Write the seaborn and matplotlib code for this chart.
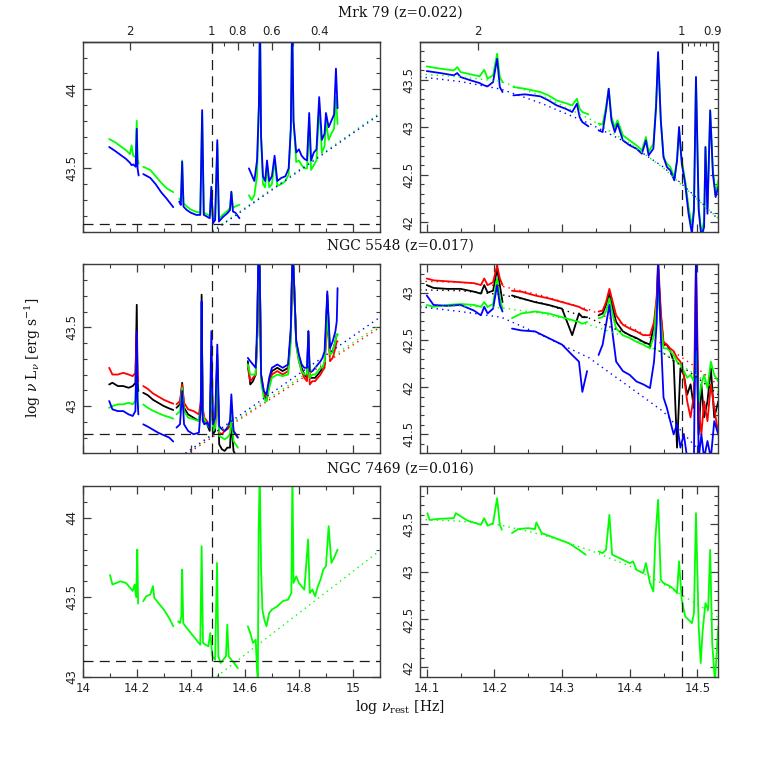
import numpy as np
import pandas as pd
import matplotlib
matplotlib.use("Agg")
import matplotlib.pyplot as plt
import seaborn as sns
from matplotlib.ticker import FixedLocator, MultipleLocator, FuncFormatter, NullFormatter

nan = np.nan

# ------------------------------------------------------------------ data
# Mrk 79, wide range (left), log nu_rest vs log nu L_nu ; NaN = gap
mrk79_L_nu = [14.098, 14.12, 14.14, 14.16, 14.175, 14.181, 14.187, 14.196, 14.200, 14.203, 14.207, nan,
              14.224, 14.25, 14.27, 14.29, 14.31, 14.335, nan,
              14.357, 14.363, 14.368, 14.373, 14.385, 14.40, 14.42, 14.435, 14.442, 14.448, 14.46, 14.47,
              14.476, 14.482, 14.49, 14.498, 14.504, 14.52, 14.535, 14.545, 14.55, 14.556, 14.565, 14.58, nan,
              14.615, 14.625, 14.635, 14.645, 14.652, 14.656, 14.660, 14.667, 14.675, 14.682, 14.69, 14.70,
              14.71, 14.72, 14.735, 14.75, 14.762, 14.770, 14.775, 14.780, 14.79, 14.80, 14.81, 14.82, 14.83,
              14.838, 14.845, 14.855, 14.865, 14.875, 14.885, 14.895, 14.90, 14.91, 14.92, 14.93, 14.937, 14.943]
mrk79_L_blue = [43.635, 43.61, 43.585, 43.56, 43.535, 43.52, 43.525, 43.51, 43.75, 43.50, 43.455, nan,
                43.464, 43.44, 43.40, 43.35, 43.31, 43.255, nan,
                43.29, 43.269, 43.542, 43.258, 43.237, 43.22, 43.206, 43.206, 43.868, 43.206, 43.195, 43.185,
                43.384, 43.153, 43.174, 43.678, 43.164, 43.195, 43.216, 43.237, 43.353, 43.227, 43.22, 43.185, nan,
                43.50, 43.46, 43.42, 43.55, 43.9, 44.45, 43.7, 43.45, 43.42, 43.55, 43.42, 43.45,
                43.58, 43.42, 43.44, 43.45, 43.50, 43.75, 44.45, 43.8, 43.60, 43.62, 43.58, 43.56, 43.55,
                43.85, 43.55, 43.60, 43.62, 43.95, 43.68, 43.72, 43.85, 43.76, 43.80, 43.84, 44.13, 43.88]
mrk79_L_green = [43.685, 43.665, 43.64, 43.615, 43.59, 43.645, 43.58, 43.57, 43.80, 43.56, 43.53, nan,
                 43.51, 43.49, 43.45, 43.41, 43.375, 43.35, nan,
                 43.31, 43.29, 43.55, 43.28, 43.26, 43.24, 43.225, 43.22, 43.85, 43.22, 43.21, 43.20,
                 43.38, 43.17, 43.19, 43.66, 43.18, 43.21, 43.23, 43.25, 43.35, 43.25, 43.26, 43.27, nan,
                 43.33, 43.30, 43.33, 43.45, 43.9, 44.45, 43.7, 43.40, 43.38, 43.52, 43.38, 43.40,
                 43.55, 43.39, 43.40, 43.42, 43.46, 43.75, 44.45, 43.8, 43.54, 43.55, 43.52, 43.50, 43.50,
                 43.80, 43.49, 43.52, 43.55, 43.90, 43.60, 43.64, 43.80, 43.68, 43.72, 43.75, 43.95, 43.78]
mrk79_L_fit_nu = [14.48, 15.10]
mrk79_L_fit_green = [43.106, 43.85]
mrk79_L_fit_blue = [43.100, 43.842]
mrk79_L_floor = 43.15

# Mrk 79, near-IR (right)
mrk79_R_nu = [14.100, 14.12, 14.14, 14.145, 14.15, 14.165, 14.178, 14.185, 14.19, 14.198, 14.204, 14.208, 14.212, nan,
              14.228, 14.245, 14.268, 14.28, 14.292, 14.305, 14.315, 14.322, 14.326, 14.33, 14.339, nan,
              14.354, 14.36, 14.365, 14.369, 14.373, 14.378, 14.382, 14.39, 14.40, 14.41, 14.418, 14.424,
              14.428, 14.435, 14.439, 14.442, 14.446, 14.45, 14.455, 14.46, 14.466, 14.470, 14.473, 14.477,
              14.482, 14.487, 14.492, 14.495, 14.498, 14.502, 14.506, 14.51, 14.512, 14.515, 14.519, 14.523,
              14.527, 14.531]
mrk79_R_green = [43.640, 43.616, 43.598, 43.633, 43.581, 43.556, 43.535, 43.605, 43.511, 43.546, 43.774, 43.528, 43.475, nan,
                 43.423, 43.405, 43.37, 43.335, 43.282, 43.254, 43.23, 43.30, 43.195, 43.16, 43.135, nan,
                 43.037, 43.030, 43.212, 43.405, 43.107, 43.002, 43.072, 42.914, 42.861, 42.809, 42.756, 42.896,
                 42.739, 42.826, 43.247, 43.739, 43.072, 42.686, 42.616, 42.581, 42.475, 42.651, 42.967, 42.651,
                 42.44, 42.16, 41.949, 42.16, 43.528, 42.16, 41.879, 42.019, 42.791, 42.16, 43.177, 42.546,
                 42.30, 42.44]
mrk79_R_blue = [43.591, 43.570, 43.546, 43.570, 43.528, 43.493, 43.465, 43.44, 43.43, 43.475, 43.721, 43.423, 43.37, nan,
                43.335, 43.346, 43.325, 43.282, 43.23, 43.195, 43.16, 43.247, 43.107, 43.054, 43.009, nan,
                42.967, 42.949, 43.177, 43.405, 43.072, 42.949, 43.037, 42.861, 42.809, 42.774, 42.721, 42.861,
                42.704, 42.774, 43.212, 43.791, 43.072, 42.686, 42.581, 42.546, 42.44, 42.651, 43.002, 42.616,
                42.405, 42.089, 41.879, 42.125, 43.528, 42.125, 41.844, 41.949, 42.791, 42.089, 43.177, 42.511,
                42.265, 42.37]
mrk79_R_fit_nu = [14.09, 14.15, 14.21, 14.27, 14.34, 14.40, 14.45, 14.50, 14.531]
mrk79_R_fit_green = [43.56, 43.53, 43.48, 43.33, 43.09, 42.83, 42.57, 42.24, 42.04]
mrk79_R_fit_blue = [43.53, 43.48, 43.40, 43.25, 43.04, 42.82, 42.58, 42.25, 42.03]

# NGC 5548, wide range (left)
n5548_L_nu = [14.098, 14.11, 14.13, 14.15, 14.17, 14.185, 14.195, 14.200, 14.203, 14.206, nan,
              14.224, 14.24, 14.26, 14.28, 14.30, 14.32, 14.335, nan,
              14.347, 14.36, 14.368, 14.375, 14.39, 14.41, 14.43, 14.437, 14.44, 14.444, 14.45, 14.46, 14.47,
              14.476, 14.482, 14.49, 14.498, 14.505, 14.515, 14.525, 14.535, 14.545, 14.55, 14.558, 14.566, 14.574, nan,
              14.611, 14.62, 14.63, 14.64, 14.646, 14.65, 14.655, 14.66, 14.67, 14.68, 14.69, 14.70, 14.72,
              14.74, 14.76, 14.77, 14.776, 14.78, 14.79, 14.80, 14.81, 14.82, 14.83, 14.835, 14.84, 14.85,
              14.86, 14.87, 14.88, 14.887, 14.895, 14.905, 14.915, 14.925, 14.935, 14.94, 14.943]
n5548_L_red = [43.243, 43.20, 43.20, 43.211, 43.20, 43.19, 43.211, 43.454, 43.20, 43.158, nan,
               43.127, 43.11, 43.08, 43.06, 43.04, 43.025, 43.015, nan,
               43.011, 43.032, 43.137, 43.021, 42.979, 42.968, 42.947, 43.032, 43.559, 42.989, 42.926, 42.905, 42.873,
               43.137, 42.863, 42.884, 43.243, 42.831, 42.821, 42.842, 42.852, 42.873, 42.989, 42.842, 42.821, 42.80, nan,
               43.243, 43.158, 43.179, 43.20, 43.454, 43.96, 43.876, 43.20, 43.095, 43.053, 43.137, 43.20, 43.222,
               43.20, 43.222, 43.454, 43.96, 43.876, 43.39, 43.285, 43.222, 43.179, 43.158, 43.454, 43.137, 43.158,
               43.158, 43.179, 43.20, 43.222, 43.243, 43.559, 43.285, 43.306, 43.369, 43.411, 43.411]
n5548_L_black = [43.137, 43.148, 43.127, 43.127, 43.116, 43.127, 43.148, 43.643, 43.158, 43.095, nan,
                 43.084, 43.07, 43.04, 43.02, 43.00, 42.985, 42.975, nan,
                 42.989, 43.011, 43.148, 42.989, 42.947, 42.926, 42.905, 42.989, 43.707, 42.947, 42.905, 42.884, 42.842,
                 43.285, 42.821, 42.842, 43.327, 42.757, 42.726, 42.715, 42.736, 42.736, 42.905, 42.715, 42.69, 42.69, nan,
                 43.285, 43.137, 43.158, 43.20, 43.454, 43.96, 43.876, 43.179, 43.074, 43.032, 43.137, 43.222, 43.243,
                 43.222, 43.243, 43.454, 43.96, 43.876, 43.411, 43.306, 43.243, 43.20, 43.179, 43.475, 43.179, 43.179,
                 43.179, 43.20, 43.222, 43.243, 43.264, 43.707, 43.327, 43.348, 43.411, 43.454, 43.454]
n5548_L_green = [42.989, 43.00, 43.011, 43.011, 43.021, 43.011, 43.032, 43.285, 43.053, 42.989, nan,
                 43.01, 42.99, 42.97, 42.955, 42.94, 42.93, 42.92, nan,
                 42.947, 42.968, 43.116, 42.968, 42.926, 42.916, 42.905, 42.989, 43.622, 42.947, 42.916, 42.884, 42.863,
                 43.20, 42.842, 42.863, 43.285, 42.81, 42.80, 42.789, 42.80, 42.821, 42.947, 42.778, 42.757, 42.736, nan,
                 43.264, 43.20, 43.20, 43.20, 43.454, 43.96, 43.876, 43.158, 43.053, 43.032, 43.116, 43.179, 43.20,
                 43.19, 43.20, 43.411, 43.96, 43.876, 43.39, 43.285, 43.222, 43.20, 43.20, 43.454, 43.179, 43.20,
                 43.20, 43.222, 43.243, 43.243, 43.285, 43.58, 43.327, 43.348, 43.411, 43.454, 43.454]
n5548_L_blue = [43.032, 42.979, 42.968, 42.968, 42.947, 42.937, 42.968, 43.475, 43.032, 42.947, nan,
                42.884, 42.87, 42.85, 42.83, 42.815, 42.80, 42.775, nan,
                42.863, 42.884, 43.095, 42.884, 42.842, 42.821, 42.831, 42.989, 43.665, 42.905, 42.884, 42.895, 42.863,
                43.475, 42.884, 42.926, 43.39, 42.873, 42.852, 42.842, 42.863, 42.905, 43.074, 42.842, 42.821, 42.80, nan,
                43.306, 43.285, 43.264, 43.243, 43.538, 43.96, 43.876, 43.20, 43.095, 43.074, 43.179, 43.243, 43.264,
                43.243, 43.264, 43.496, 43.96, 43.876, 43.411, 43.327, 43.264, 43.243, 43.243, 43.475, 43.222, 43.222,
                43.243, 43.264, 43.285, 43.306, 43.348, 43.728, 43.369, 43.411, 43.475, 43.538, 43.749]
n5548_L_fit_nu = [14.38, 15.10]
n5548_L_fit_blue = [42.70, 43.564]
n5548_L_fit_green = [42.70, 43.515]
n5548_L_fit_red = [42.69, 43.50]
n5548_L_floor = 42.82

# NGC 5548, near-IR (right)
n5548_R_nu = [14.10, 14.11, 14.13, 14.15, 14.17, 14.18, 14.185, 14.19, 14.198, 14.204, 14.208, 14.212, nan,
              14.226, 14.24, 14.26, 14.28, 14.30, 14.315, 14.325, 14.33, 14.337, nan,
              14.354, 14.36, 14.365, 14.37, 14.375, 14.38, 14.39, 14.40, 14.41, 14.42, 14.43, 14.436, 14.44,
              14.442, 14.446, 14.45, 14.455, 14.46, 14.465, 14.47, 14.475, 14.48, 14.485, 14.49, 14.495, 14.498,
              14.502, 14.506, 14.51, 14.515, 14.52, 14.525, 14.531]
n5548_R_red = [43.15, 43.13, 43.12, 43.11, 43.10, 43.08, 43.15, 43.08, 43.11, 43.29, 43.15, 43.08, nan,
               43.02, 43.01, 42.97, 42.94, 42.90, 42.87, 42.85, 42.83, 42.81, nan,
               42.80, 42.81, 42.90, 43.04, 42.90, 42.76, 42.66, 42.62, 42.59, 42.55, 42.55, 42.69, 42.97,
               43.35, 42.80, 42.48, 42.45, 42.41, 42.38, 42.31, 42.27, 42.13, 41.85, 41.68, 41.92, 43.35,
               41.78, 41.50, 41.85, 41.64, 42.03, 41.78, 41.50]
n5548_R_black = [43.08, 43.05, 43.04, 43.04, 43.01, 42.99, 43.08, 43.00, 43.02, 43.25, 43.08, 42.90, nan,
                 42.97, 42.94, 42.90, 42.87, 42.83, 42.55, 42.78, 42.74, 42.74, nan,
                 42.76, 42.78, 42.87, 42.99, 42.83, 42.69, 42.59, 42.55, 42.52, 42.48, 42.45, 42.66, 42.90,
                 43.25, 42.76, 42.45, 42.45, 42.38, 42.27, 41.36, 42.20, 42.13, 41.92, 42.03, 41.78, 42.73,
                 41.50, 42.03, 41.68, 41.85, 42.20, 41.68, 41.85]
n5548_R_green = [42.87, 42.85, 42.87, 42.88, 42.87, 42.85, 42.90, 42.85, 42.88, 43.15, 42.94, 42.83, nan,
                 42.73, 42.78, 42.80, 42.78, 42.74, 42.71, 42.69, 42.67, 42.69, nan,
                 42.73, 42.74, 42.80, 42.94, 42.76, 42.62, 42.55, 42.52, 42.48, 42.45, 42.41, 42.55, 42.90,
                 43.01, 42.66, 42.41, 42.41, 42.38, 42.34, 42.27, 42.24, 42.17, 42.10, 42.13, 42.06, 42.38,
                 41.85, 42.03, 42.13, 41.99, 42.27, 42.13, 42.06]
n5548_R_blue = [42.97, 42.87, 42.86, 42.87, 42.81, 42.76, 42.85, 42.78, 42.83, 43.08, 42.87, 42.80, nan,
                42.62, 42.60, 42.59, 42.52, 42.45, 42.34, 42.27, 41.95, 42.17, nan,
                42.34, 42.45, 42.66, 42.87, 42.55, 42.27, 42.17, 42.13, 42.06, 42.03, 41.99, 42.27, 42.69,
                43.35, 42.55, 41.89, 41.78, 41.64, 41.50, 41.61, 41.36, 41.50, 41.25, 41.25, 41.25, 43.35,
                41.25, 41.50, 41.25, 41.43, 41.25, 41.64, 41.50]
n5548_R_fit_nu = [14.09, 14.15, 14.21, 14.27, 14.34, 14.40, 14.45, 14.50, 14.531]
n5548_R_fit_red = [43.12, 43.11, 43.07, 42.97, 42.82, 42.64, 42.45, 42.20, 42.02]
n5548_R_fit_black = [43.03, 43.02, 42.98, 42.89, 42.73, 42.55, 42.36, 42.10, 41.92]
n5548_R_fit_green = [42.85, 42.86, 42.84, 42.78, 42.66, 42.52, 42.36, 42.12, 41.95]
n5548_R_fit_blue = [42.85, 42.80, 42.74, 42.55, 42.31, 42.00, 41.74, 41.35, 41.05]

# NGC 7469, wide range (left)
n7469_L_nu = [14.101, 14.11, 14.125, 14.14, 14.16, 14.175, 14.185, 14.192, 14.198, 14.202, 14.205, nan,
              14.224, 14.235, 14.25, 14.26, 14.265, 14.28, 14.30, 14.32, 14.335, nan,
              14.353, 14.36, 14.365, 14.368, 14.372, 14.38, 14.40, 14.42, 14.435, 14.44, 14.445, 14.455, 14.465,
              14.472, 14.48, 14.49, 14.497, 14.502, 14.51, 14.52, 14.53, 14.535, 14.54, 14.55, 14.56, 14.574, nan,
              14.611, 14.62, 14.63, 14.64, 14.645, 14.648, 14.651, 14.655, 14.66, 14.665, 14.672, 14.68, 14.69,
              14.70, 14.72, 14.74, 14.76, 14.772, 14.776, 14.78, 14.79, 14.80, 14.81, 14.82, 14.834, 14.84,
              14.85, 14.86, 14.87, 14.88, 14.89, 14.90, 14.91, 14.92, 14.93, 14.943]
n7469_L_green = [43.64, 43.58, 43.59, 43.60, 43.59, 43.56, 43.54, 43.58, 43.50, 43.80, 43.46, nan,
                 43.475, 43.506, 43.517, 43.57, 43.496, 43.464, 43.422, 43.369, 43.317, nan,
                 43.348, 43.338, 43.38, 43.674, 43.338, 43.317, 43.275, 43.233, 43.201, 43.821, 43.212, 43.201, 43.191,
                 43.275, 43.128, 43.107, 43.716, 43.128, 43.086, 43.107, 43.128, 43.328, 43.128, 43.107, 43.086, 43.054, nan,
                 43.317, 43.275, 43.212, 43.233, 43.044, 42.98, 43.905, 44.3, 43.674, 43.422, 43.359, 43.317, 43.401,
                 43.422, 43.443, 43.475, 43.485, 43.527, 44.3, 43.59, 43.632, 43.59, 43.569, 43.548, 43.863, 43.527,
                 43.548, 43.506, 43.569, 43.611, 43.674, 43.695, 43.947, 43.716, 43.748, 43.80]
n7469_L_fit_nu = [14.48, 15.10]
n7469_L_fit_green = [42.98, 43.794]
n7469_L_floor = 43.10

# NGC 7469, near-IR (right)
n7469_R_nu = [14.101, 14.104, 14.12, 14.14, 14.143, 14.16, 14.18, 14.185, 14.19, 14.198, 14.204, 14.208, 14.211, nan,
              14.226, 14.235, 14.25, 14.26, 14.262, 14.27, 14.29, 14.31, 14.325, 14.335, nan,
              14.354, 14.36, 14.365, 14.37, 14.374, 14.38, 14.39, 14.40, 14.405, 14.41, 14.42, 14.424, 14.43,
              14.435, 14.438, 14.442, 14.446, 14.45, 14.46, 14.466, 14.47, 14.473, 14.477, 14.482, 14.487,
              14.492, 14.495, 14.498, 14.502, 14.505, 14.508, 14.512, 14.516, 14.519, 14.522, 14.526, 14.531]
n7469_R_green = [43.615, 43.545, 43.556, 43.563, 43.615, 43.538, 43.493, 43.563, 43.483, 43.51, 43.773, 43.493, 43.441, nan,
                 43.406, 43.448, 43.458, 43.448, 43.517, 43.406, 43.353, 43.301, 43.231, 43.179, nan,
                 43.213, 43.196, 43.231, 43.598, 43.179, 43.161, 43.126, 43.091, 43.109, 43.021, 42.986, 43.091, 42.882,
                 42.794, 43.353, 43.755, 42.916, 42.882, 42.847, 42.812, 42.777, 43.109, 42.707, 42.532, 42.497,
                 42.462, 42.567, 43.615, 42.427, 42.043, 42.392, 42.672, 42.602, 43.231, 42.253, 41.85, 42.427]
n7469_R_fit_nu = [14.09, 14.15, 14.21, 14.27, 14.34, 14.40, 14.45, 14.50, 14.531]
n7469_R_fit_green = [43.55, 43.53, 43.49, 43.39, 43.23, 43.06, 42.87, 42.66, 42.52]

one_micron_lognu = 14.477
wl_left_major = [2, 1, 0.8, 0.6, 0.4]
wl_left_minor = [0.9, 0.7, 0.5]
wl_right_major = [2, 1, 0.9]
wl_right_minor = [0.98, 0.96, 0.94, 0.92]

titles = ["Mrk 79 (z=0.022)", "NGC 5548 (z=0.017)", "NGC 7469 (z=0.016)"]

COLORS = {"black": "#000000", "red": "#ff0000", "green": "#00ff00", "blue": "#0000ff"}

# ------------------------------------------------------------------ style
sns.set_theme(style="ticks")
plt.rcParams["font.family"] = ["DejaVu Sans"]
plt.rcParams["mathtext.fontset"] = "dejavuserif"
EDGE = "#3c3c3c"
plt.rcParams["axes.edgecolor"] = EDGE
plt.rcParams["axes.linewidth"] = 1.0

fig = plt.figure(figsize=(7.58, 7.58), dpi=100)

W = 758.0
def box(x0, x1, y0, y1):
    return [x0 / W, 1 - y1 / W, (x1 - x0) / W, (y1 - y0) / W]

col_x = [(82.7, 380.0), (420.0, 718.3)]
row_y = [(41.7, 231.7), (264.3, 453.3), (486.0, 676.7)]


def long_frame(nu, series):
    rows = []
    nu = np.asarray(nu, float)
    seg = np.cumsum(np.isnan(nu))
    for name, vals in series.items():
        vals = np.asarray(vals, float)
        ok = ~np.isnan(nu) & ~np.isnan(vals)
        rows.append(pd.DataFrame({"nu": nu[ok], "L": vals[ok], "series": name, "seg": seg[ok]}))
    return pd.concat(rows, ignore_index=True)


def draw(ax, nu, series, fit_nu, fits, xlim, ylim, floor=None):
    order = list(series.keys())
    df = long_frame(nu, series)
    sns.lineplot(data=df, x="nu", y="L", hue="series", hue_order=order, palette=COLORS,
                 units="seg", estimator=None, sort=False, lw=1.3, legend=False, ax=ax)
    fdf = long_frame(fit_nu, fits)
    sns.lineplot(data=fdf, x="nu", y="L", hue="series", hue_order=list(fits.keys()), palette=COLORS,
                 units="seg", estimator=None, sort=False, lw=1.0, legend=False, ax=ax,
                 linestyle=(0, (1, 3)))
    ax.axvline(one_micron_lognu, color="k", lw=0.9, dashes=(8, 5), zorder=5)
    if floor is not None:
        ax.axhline(floor, color="k", lw=0.9, dashes=(8, 5), zorder=5)
    ax.set_xlim(*xlim)
    ax.set_ylim(*ylim)
    ax.set_xlabel("")
    ax.set_ylabel("")
    ax.yaxis.set_major_locator(MultipleLocator(0.5))
    ax.yaxis.set_minor_locator(MultipleLocator(0.1))
    ax.yaxis.set_major_formatter(FuncFormatter(lambda v, p: f"{v:g}"))
    ax.tick_params(axis="both", which="both", direction="in", top=True, right=True,
                   color=EDGE, labelsize=8.5, labelcolor="#222222")
    ax.tick_params(which="major", length=6, width=0.9)
    ax.tick_params(which="minor", length=3, width=0.8)
    ax.tick_params(axis="y", labelrotation=90, pad=3)
    for lab in ax.get_yticklabels():
        lab.set_va("center")
    for sp in ax.spines.values():
        sp.set_visible(True)


def nu_to_lam(x):
    return 2.998e14 / np.power(10.0, np.asarray(x, float))


def lam_to_nu(l):
    l = np.asarray(l, float)
    l = np.where(l > 1e-6, l, 1e-6)
    return np.log10(2.998e14 / l)


left_xlim = (14.0, 15.1)
right_xlim = (14.09, 14.531)

panels = [
    (0, 0, mrk79_L_nu, {"green": mrk79_L_green, "blue": mrk79_L_blue},
     mrk79_L_fit_nu, {"green": mrk79_L_fit_green, "blue": mrk79_L_fit_blue}, left_xlim, (43.1, 44.3), mrk79_L_floor),
    (0, 1, mrk79_R_nu, {"green": mrk79_R_green, "blue": mrk79_R_blue},
     mrk79_R_fit_nu, {"green": mrk79_R_fit_green, "blue": mrk79_R_fit_blue}, right_xlim, (41.9, 43.9), None),
    (1, 0, n5548_L_nu, {"black": n5548_L_black, "red": n5548_L_red, "green": n5548_L_green, "blue": n5548_L_blue},
     n5548_L_fit_nu, {"red": n5548_L_fit_red, "green": n5548_L_fit_green, "blue": n5548_L_fit_blue},
     left_xlim, (42.7, 43.9), n5548_L_floor),
    (1, 1, n5548_R_nu, {"black": n5548_R_black, "red": n5548_R_red, "green": n5548_R_green, "blue": n5548_R_blue},
     n5548_R_fit_nu, {"black": n5548_R_fit_black, "red": n5548_R_fit_red, "green": n5548_R_fit_green,
                      "blue": n5548_R_fit_blue}, right_xlim, (41.3, 43.3), None),
    (2, 0, n7469_L_nu, {"green": n7469_L_green},
     n7469_L_fit_nu, {"green": n7469_L_fit_green}, left_xlim, (43.0, 44.2), n7469_L_floor),
    (2, 1, n7469_R_nu, {"green": n7469_R_green},
     n7469_R_fit_nu, {"green": n7469_R_fit_green}, right_xlim, (41.9, 43.9), None),
]

for r, c, nu, ser, fnu, fits, xl, yl, floor in panels:
    ax = fig.add_axes(box(col_x[c][0], col_x[c][1], row_y[r][0], row_y[r][1]))
    draw(ax, nu, ser, fnu, fits, xl, yl, floor)
    if c == 0:
        ax.xaxis.set_major_locator(MultipleLocator(0.2))
        ax.xaxis.set_minor_locator(MultipleLocator(0.1))
    else:
        ax.xaxis.set_major_locator(MultipleLocator(0.1))
        ax.xaxis.set_minor_locator(MultipleLocator(0.05))
    ax.xaxis.set_major_formatter(FuncFormatter(lambda v, p: f"{v:g}"))
    if r < 2:
        ax.tick_params(axis="x", labelbottom=False)
    else:
        ax.tick_params(axis="x", pad=4)
    if r == 0:
        ax.tick_params(axis="x", which="both", top=False)
        sec = ax.secondary_xaxis("top", functions=(nu_to_lam, lam_to_nu))
        sec.xaxis.set_major_locator(FixedLocator(wl_left_major if c == 0 else wl_right_major))
        sec.xaxis.set_minor_locator(FixedLocator(wl_left_minor if c == 0 else wl_right_minor))
        sec.xaxis.set_major_formatter(FuncFormatter(lambda v, p: f"{v:g}"))
        sec.xaxis.set_minor_formatter(NullFormatter())
        sec.tick_params(which="both", direction="in", color=EDGE, labelsize=8.5, labelcolor="#222222", pad=3)
        sec.tick_params(which="major", length=6, width=0.9)
        sec.tick_params(which="minor", length=3, width=0.8)
        sec.spines["top"].set_color(EDGE)

TFONT = dict(family="DejaVu Serif", size=10, color="#111111")
fig.text(400 / W, 1 - 13 / W, titles[0], ha="center", va="center", **TFONT)
fig.text(400 / W, 1 - 246 / W, titles[1], ha="center", va="center", **TFONT)
fig.text(400 / W, 1 - 469 / W, titles[2], ha="center", va="center", **TFONT)
fig.text(33 / W, 1 - 358 / W, r"log $\nu$ L$_\nu$ [erg s$^{-1}$]", rotation=90,
         ha="center", va="center", **TFONT)
fig.text(400 / W, 1 - 707 / W, r"log $\nu_{\rm rest}$ [Hz]", ha="center", va="center", **TFONT)

fig.savefig("out.png", dpi=100)
